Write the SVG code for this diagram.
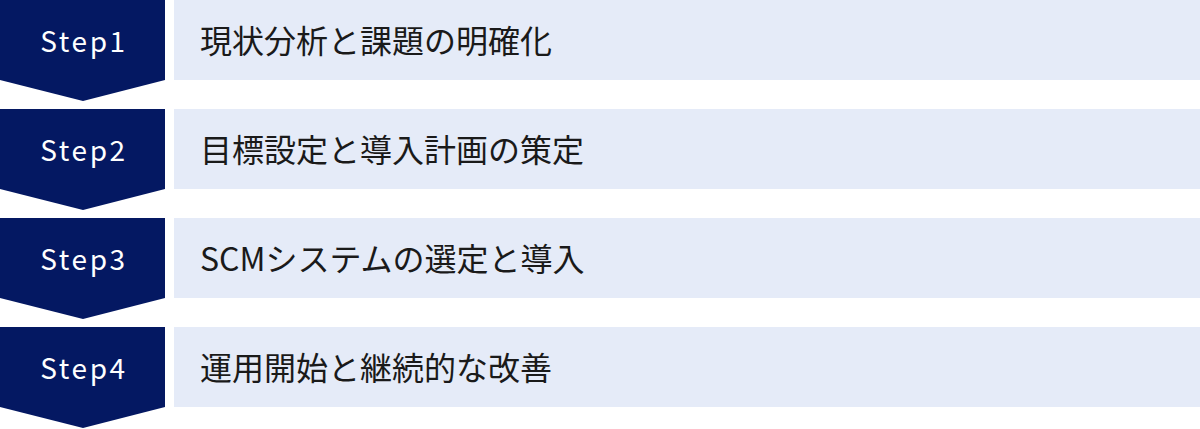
<svg xmlns="http://www.w3.org/2000/svg" width="1200" height="429" viewBox="0 0 1200 429">
<style>
.chev{fill:#041862}
.bar{fill:#e5ebf8}
.step{font-family:"Noto Sans CJK JP","Noto Sans",sans-serif;font-size:28px;fill:#ffffff;letter-spacing:2.6px;text-anchor:middle}
.lbl{font-family:"Noto Sans CJK JP","Noto Sans",sans-serif;font-size:32px;fill:#1a1a1a}
</style>
<rect width="1200" height="429" fill="#ffffff"/>
<g id="step1">
<polygon class="chev" points="0,0 165,0 165,80 83,101 0,80"/>
<rect class="bar" x="174" y="0" width="1026" height="80"/>
<text class="step" x="84" y="52">Step1</text>
<text class="lbl" x="200" y="53">現状分析と課題の明確化</text>
</g>
<g id="step2">
<polygon class="chev" points="0,109 165,109 165,189 83,210 0,189"/>
<rect class="bar" x="174" y="109" width="1026" height="80"/>
<text class="step" x="84" y="161">Step2</text>
<text class="lbl" x="200" y="162">目標設定と導入計画の策定</text>
</g>
<g id="step3">
<polygon class="chev" points="0,218 165,218 165,298 83,319 0,298"/>
<rect class="bar" x="174" y="218" width="1026" height="80"/>
<text class="step" x="84" y="270">Step3</text>
<text class="lbl" x="200" y="271">SCMシステムの選定と導入</text>
</g>
<g id="step4">
<polygon class="chev" points="0,327 165,327 165,407 83,428 0,407"/>
<rect class="bar" x="174" y="327" width="1026" height="80"/>
<text class="step" x="84" y="379">Step4</text>
<text class="lbl" x="200" y="380">運用開始と継続的な改善</text>
</g>
<g id="connectors"></g>
</svg>
